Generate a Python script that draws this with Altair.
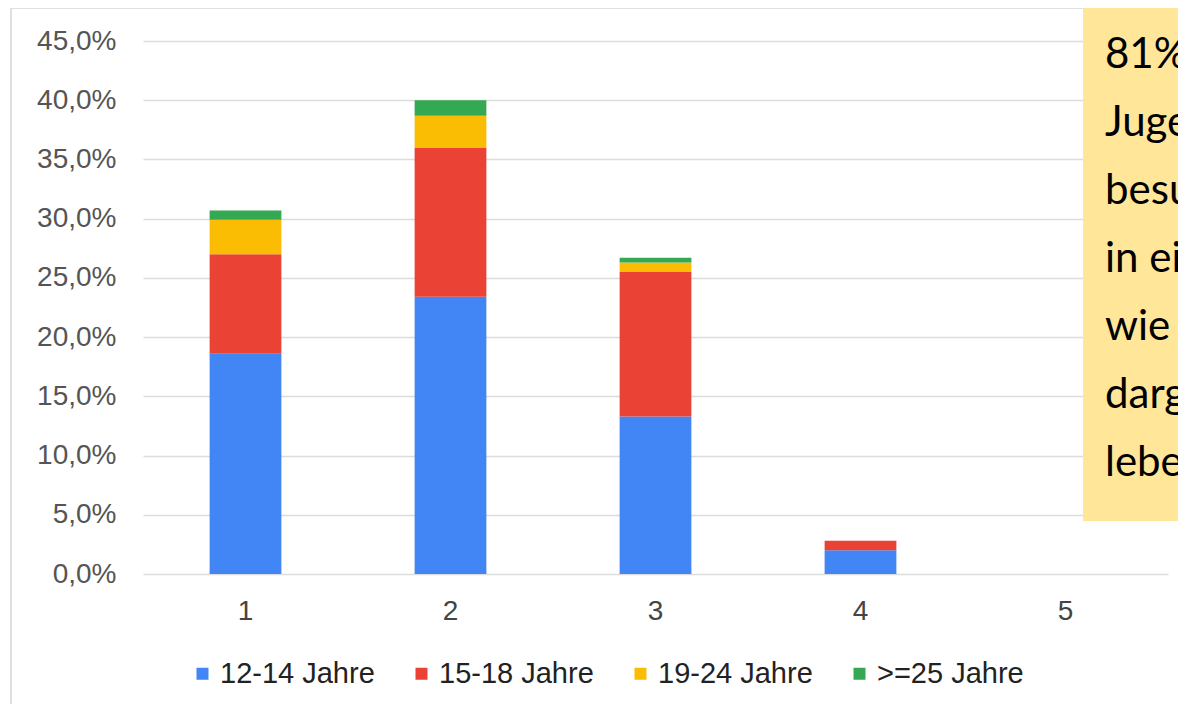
import altair as alt
import pandas as pd

# ---- data ----
categories = ["1", "2", "3", "4", "5"]
groups = ["12-14 Jahre", "15-18 Jahre", "19-24 Jahre", ">=25 Jahre"]
group_colors = ["#4285F4", "#EA4335", "#FBBC04", "#34A853"]
v_12_14 = [18.6, 23.4, 13.3, 2.0, 0.0]
v_15_18 = [8.4, 12.6, 12.2, 0.8, 0.0]
v_19_24 = [2.9, 2.7, 0.8, 0.0, 0.0]
v_25plus = [0.8, 1.3, 0.4, 0.0, 0.0]
y_tick_values = [0.0, 0.05, 0.10, 0.15, 0.20, 0.25, 0.30, 0.35, 0.40, 0.45]
note_lines = ["81% der", "Jugendlichen", "besuchen", "in einer", "wie", "dargestellt", "leben"]

rows = []
for gi, (g, vals) in enumerate(zip(groups, [v_12_14, v_15_18, v_19_24, v_25plus])):
    for c, v in zip(categories, vals):
        rows.append({"kat": c, "gruppe": g, "ord": gi, "anteil": v / 100.0})
df = pd.DataFrame(rows)

W = 1035
H = 562
FONT = "Liberation Sans"

bars = alt.Chart(df).mark_bar().encode(
    x=alt.X(
        "kat:N",
        sort=categories,
        scale=alt.Scale(domain=categories, range=[0, 1025], paddingInner=0.65, paddingOuter=0.325),
        axis=alt.Axis(
            title=None, labelAngle=0, domain=False, ticks=False, grid=False,
            labelFont=FONT, labelFontSize=28, labelColor="#444444", labelPadding=23,
        ),
    ),
    y=alt.Y(
        "anteil:Q",
        stack="zero",
        scale=alt.Scale(domain=[0, 0.4745], nice=False, zero=True),
        axis=alt.Axis(
            title=None, values=y_tick_values, domain=False, ticks=False,
            labelExpr="replace(format(datum.value*100, '.1f'), '.', ',') + '%'",
            labelFont=FONT, labelFontSize=28, labelColor="#555555", labelPadding=27,
            grid=True, gridColor="#dcdcdc", gridWidth=1.5,
        ),
    ),
    color=alt.Color(
        "gruppe:N",
        scale=alt.Scale(domain=groups, range=group_colors),
        legend=alt.Legend(
            title=None, orient="none", legendX=45, legendY=647, direction="horizontal",
            symbolType="square", symbolSize=144, symbolStrokeWidth=0,
            labelFont=FONT, labelFontSize=29, labelColor="#222222",
            labelOffset=3, columnPadding=32,
        ),
    ),
    order=alt.Order("ord:Q", sort="ascending"),
)

one = pd.DataFrame({"k": [0]})

frame_left = alt.Chart(one).mark_rule(color="#d4d4d4", strokeWidth=1.5).encode(
    x=alt.value(-132), y=alt.value(-4), y2=alt.value(700)
)
frame_top = alt.Chart(one).mark_rule(color="#d4d4d4", strokeWidth=1.5).encode(
    x=alt.value(-132), x2=alt.value(W), y=alt.value(-4)
)

note_box = alt.Chart(one).mark_rect(color="#FFE699").encode(
    x=alt.value(940), x2=alt.value(W), y=alt.value(-7), y2=alt.value(509)
)

note_text = alt.Chart(one).mark_text(
    text=note_lines, font="Lato", fontSize=42, lineHeight=68,
    align="left", baseline="top", color="#000000", clip=True,
).encode(x=alt.value(962), y=alt.value(23))

chart = alt.layer(bars, frame_left, frame_top, note_box, note_text).properties(
    width=W, height=H,
    background="white",
    autosize=alt.AutoSizeParams(type="none"),
    padding={"left": 135, "top": 4, "right": 0, "bottom": 130},
).configure_view(stroke=None, strokeWidth=0).configure_axis(domain=False)

chart.save("out.html", embed_options={"renderer": "svg", "actions": False})
